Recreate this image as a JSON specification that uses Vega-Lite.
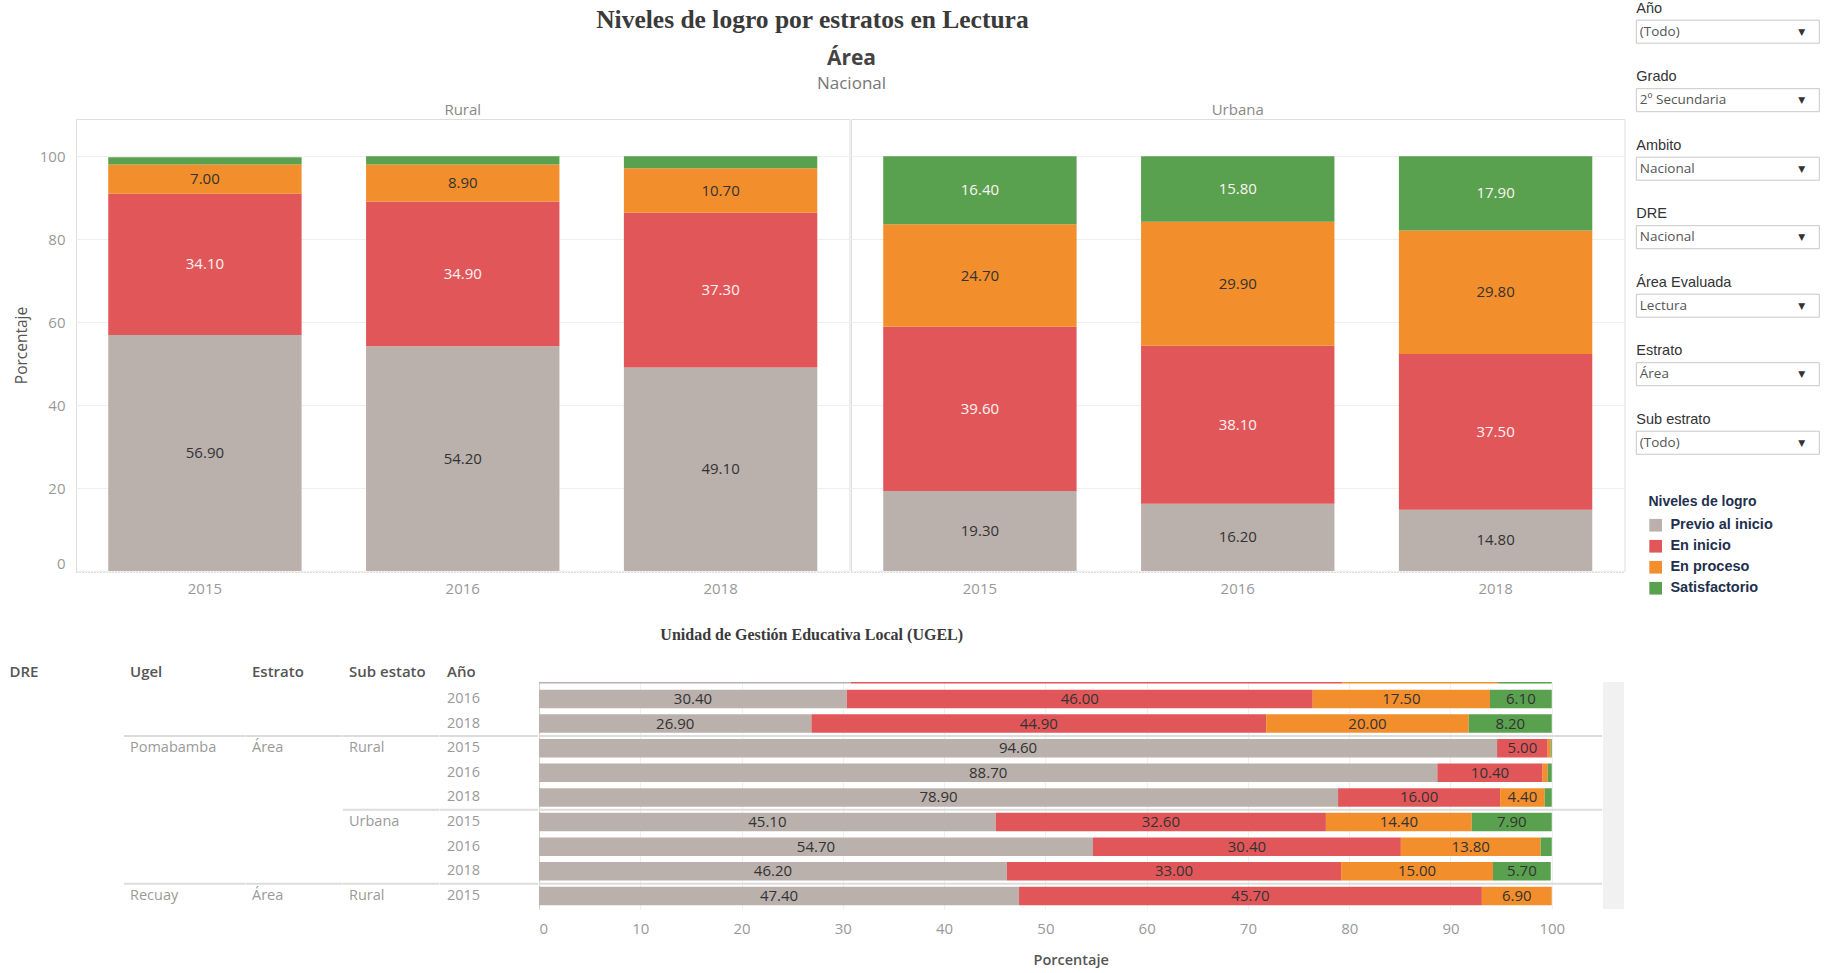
{
  "$schema": "https://vega.github.io/schema/vega-lite/v6.json",
  "background": "white",
  "padding": {"left": 9, "top": 0, "right": 4, "bottom": 6},
  "config": {
    "font": "Open Sans",
    "view": {"stroke": null},
    "axis": {"labelFont": "Open Sans", "titleFont": "Open Sans"},
    "header": {"labelFont": "Open Sans"},
    "title": {"font": "Open Sans"},
    "text": {"font": "Open Sans"}
  },
  "datasets": {
    "niveles": [
      {"nivel": "Previo al inicio", "rango": 1},
      {"nivel": "En inicio", "rango": 2},
      {"nivel": "En proceso", "rango": 3},
      {"nivel": "Satisfactorio", "rango": 4}
    ],
    "nacional": [
      {"area": "Rural", "anio": "2015", "nivel": "Previo al inicio", "pct": 56.9},
      {"area": "Rural", "anio": "2015", "nivel": "En inicio", "pct": 34.1},
      {"area": "Rural", "anio": "2015", "nivel": "En proceso", "pct": 7.0},
      {"area": "Rural", "anio": "2015", "nivel": "Satisfactorio", "pct": 1.8},
      {"area": "Rural", "anio": "2016", "nivel": "Previo al inicio", "pct": 54.2},
      {"area": "Rural", "anio": "2016", "nivel": "En inicio", "pct": 34.9},
      {"area": "Rural", "anio": "2016", "nivel": "En proceso", "pct": 8.9},
      {"area": "Rural", "anio": "2016", "nivel": "Satisfactorio", "pct": 2.0},
      {"area": "Rural", "anio": "2018", "nivel": "Previo al inicio", "pct": 49.1},
      {"area": "Rural", "anio": "2018", "nivel": "En inicio", "pct": 37.3},
      {"area": "Rural", "anio": "2018", "nivel": "En proceso", "pct": 10.7},
      {"area": "Rural", "anio": "2018", "nivel": "Satisfactorio", "pct": 2.9},
      {"area": "Urbana", "anio": "2015", "nivel": "Previo al inicio", "pct": 19.3},
      {"area": "Urbana", "anio": "2015", "nivel": "En inicio", "pct": 39.6},
      {"area": "Urbana", "anio": "2015", "nivel": "En proceso", "pct": 24.7},
      {"area": "Urbana", "anio": "2015", "nivel": "Satisfactorio", "pct": 16.4},
      {"area": "Urbana", "anio": "2016", "nivel": "Previo al inicio", "pct": 16.2},
      {"area": "Urbana", "anio": "2016", "nivel": "En inicio", "pct": 38.1},
      {"area": "Urbana", "anio": "2016", "nivel": "En proceso", "pct": 29.9},
      {"area": "Urbana", "anio": "2016", "nivel": "Satisfactorio", "pct": 15.8},
      {"area": "Urbana", "anio": "2018", "nivel": "Previo al inicio", "pct": 14.8},
      {"area": "Urbana", "anio": "2018", "nivel": "En inicio", "pct": 37.5},
      {"area": "Urbana", "anio": "2018", "nivel": "En proceso", "pct": 29.8},
      {"area": "Urbana", "anio": "2018", "nivel": "Satisfactorio", "pct": 17.9}
    ],
    "filas": [
      {"fila": 0, "dre": "", "ugel": "", "estrato": "", "sub": "", "anio": "2015"},
      {"fila": 1, "dre": "", "ugel": "", "estrato": "", "sub": "", "anio": "2016"},
      {"fila": 2, "dre": "", "ugel": "", "estrato": "", "sub": "", "anio": "2018"},
      {"fila": 3, "dre": "", "ugel": "Pomabamba", "estrato": "Área", "sub": "Rural", "anio": "2015"},
      {"fila": 4, "dre": "", "ugel": "", "estrato": "", "sub": "", "anio": "2016"},
      {"fila": 5, "dre": "", "ugel": "", "estrato": "", "sub": "", "anio": "2018"},
      {"fila": 6, "dre": "", "ugel": "", "estrato": "", "sub": "Urbana", "anio": "2015"},
      {"fila": 7, "dre": "", "ugel": "", "estrato": "", "sub": "", "anio": "2016"},
      {"fila": 8, "dre": "", "ugel": "", "estrato": "", "sub": "", "anio": "2018"},
      {"fila": 9, "dre": "", "ugel": "Recuay", "estrato": "Área", "sub": "Rural", "anio": "2015"}
    ],
    "ugel": [
      {"fila": 0, "nivel": "Previo al inicio", "pct": 30.8},
      {"fila": 0, "nivel": "En inicio", "pct": 48.5},
      {"fila": 0, "nivel": "En proceso", "pct": 15.4},
      {"fila": 0, "nivel": "Satisfactorio", "pct": 5.3},
      {"fila": 1, "nivel": "Previo al inicio", "pct": 30.4},
      {"fila": 1, "nivel": "En inicio", "pct": 46.0},
      {"fila": 1, "nivel": "En proceso", "pct": 17.5},
      {"fila": 1, "nivel": "Satisfactorio", "pct": 6.1},
      {"fila": 2, "nivel": "Previo al inicio", "pct": 26.9},
      {"fila": 2, "nivel": "En inicio", "pct": 44.9},
      {"fila": 2, "nivel": "En proceso", "pct": 20.0},
      {"fila": 2, "nivel": "Satisfactorio", "pct": 8.2},
      {"fila": 3, "nivel": "Previo al inicio", "pct": 94.6},
      {"fila": 3, "nivel": "En inicio", "pct": 5.0},
      {"fila": 3, "nivel": "En proceso", "pct": 0.3},
      {"fila": 3, "nivel": "Satisfactorio", "pct": 0.1},
      {"fila": 4, "nivel": "Previo al inicio", "pct": 88.7},
      {"fila": 4, "nivel": "En inicio", "pct": 10.4},
      {"fila": 4, "nivel": "En proceso", "pct": 0.5},
      {"fila": 4, "nivel": "Satisfactorio", "pct": 0.4},
      {"fila": 5, "nivel": "Previo al inicio", "pct": 78.9},
      {"fila": 5, "nivel": "En inicio", "pct": 16.0},
      {"fila": 5, "nivel": "En proceso", "pct": 4.4},
      {"fila": 5, "nivel": "Satisfactorio", "pct": 0.7},
      {"fila": 6, "nivel": "Previo al inicio", "pct": 45.1},
      {"fila": 6, "nivel": "En inicio", "pct": 32.6},
      {"fila": 6, "nivel": "En proceso", "pct": 14.4},
      {"fila": 6, "nivel": "Satisfactorio", "pct": 7.9},
      {"fila": 7, "nivel": "Previo al inicio", "pct": 54.7},
      {"fila": 7, "nivel": "En inicio", "pct": 30.4},
      {"fila": 7, "nivel": "En proceso", "pct": 13.8},
      {"fila": 7, "nivel": "Satisfactorio", "pct": 1.1},
      {"fila": 8, "nivel": "Previo al inicio", "pct": 46.2},
      {"fila": 8, "nivel": "En inicio", "pct": 33.0},
      {"fila": 8, "nivel": "En proceso", "pct": 15.0},
      {"fila": 8, "nivel": "Satisfactorio", "pct": 5.7},
      {"fila": 9, "nivel": "Previo al inicio", "pct": 47.4},
      {"fila": 9, "nivel": "En inicio", "pct": 45.7},
      {"fila": 9, "nivel": "En proceso", "pct": 6.9}
    ],
    "filtros": [
      {"filtro": "Año", "valor": "(Todo)"},
      {"filtro": "Grado", "valor": "2º Secundaria"},
      {"filtro": "Ambito", "valor": "Nacional"},
      {"filtro": "DRE", "valor": "Nacional"},
      {"filtro": "Área Evaluada", "valor": "Lectura"},
      {"filtro": "Estrato", "valor": "Área"},
      {"filtro": "Sub estrato", "valor": "(Todo)"}
    ]
  },
  "spacing": 10.3,
  "hconcat": [
    {
      "spacing": 14,
      "vconcat": [
        {
          "width": 1472.8,
          "height": 15,
          "data": {"values": [{"titulo": "Niveles de logro por estratos en Lectura"}]},
          "mark": {"type": "text", "font": "Liberation Serif", "fontSize": 25.5, "fontWeight": "bold", "color": "#3a3a3a", "baseline": "middle", "dy": 11.5},
          "encoding": {"text": {"field": "titulo"}}
        },
        {
          "spacing": 31,
          "vconcat": [
            {
              "data": {"name": "nacional"},
              "transform": [{"lookup": "nivel", "from": {"data": {"name": "niveles"}, "key": "nivel", "fields": ["rango"]}}],
              "title": {"text": "Área", "subtitle": "Nacional", "anchor": "middle", "dx": 32, "font": "Open Sans", "fontSize": 21, "fontWeight": "bold", "color": "#444444", "subtitleFont": "Open Sans", "subtitleFontSize": 17, "subtitleColor": "#777777", "subtitlePadding": 7, "offset": 11},
              "facet": {"column": {"field": "area", "type": "nominal", "title": null, "header": {"labelFontSize": 15, "labelColor": "#888888", "labelPadding": 0}}},
              "spacing": 0,
              "spec": {
                "width": 773.5,
                "height": 452,
                "view": {"stroke": "#dedede"},
                "encoding": {
                  "x": {"field": "anio", "type": "ordinal", "title": null, "scale": {"paddingInner": 0.25, "paddingOuter": 0.125},
                    "axis": {"labelAngle": 0, "labelFontSize": 15, "labelColor": "#999999", "labelPadding": 9, "ticks": false, "domainColor": "#b8b8b8", "domainDash": [1, 2], "domainWidth": 1}},
                  "order": {"field": "rango", "type": "quantitative"}
                },
                "layer": [
                  {
                    "mark": {"type": "bar"},
                    "encoding": {
                      "y": {"field": "pct", "type": "quantitative", "stack": "zero", "title": "Porcentaje", "scale": {"domain": [0, 109], "nice": false},
                        "axis": {"values": [0, 20, 40, 60, 80, 100], "labelFontSize": 15, "labelColor": "#999999", "labelPadding": 10, "ticks": false, "domain": false, "gridColor": "#efefef", "labelFlush": true, "titleFontSize": 15.5, "titleColor": "#555555", "titleFontWeight": "normal", "titlePadding": 10, "minExtent": 36, "maxExtent": 36}},
                      "color": {"field": "nivel", "type": "nominal",
                        "scale": {"domain": ["Previo al inicio", "En inicio", "En proceso", "Satisfactorio"], "range": ["#BAB0AC", "#E15759", "#F28E2B", "#59A14F"]},
                        "legend": {"title": "Niveles de logro", "orient": "none", "legendX": 1572.4, "legendY": 494, "padding": 0, "titleFont": "Liberation Sans", "titleFontSize": 14, "titleFontWeight": "bold", "titleColor": "#22304d", "titlePadding": 9, "labelFont": "Liberation Sans", "labelFontSize": 14.5, "labelFontWeight": "bold", "labelColor": "#22304d", "labelOffset": 7.5, "symbolType": "square", "symbolSize": 160, "symbolStrokeWidth": 0, "symbolOpacity": 1, "rowPadding": 6}}
                    }
                  },
                  {
                    "transform": [{"filter": "datum.pct >= 3"}],
                    "mark": {"type": "text", "fontSize": 15, "baseline": "middle"},
                    "encoding": {
                      "y": {"field": "pct", "type": "quantitative", "stack": "zero", "bandPosition": 0.5, "title": "Porcentaje", "scale": {"domain": [0, 109], "nice": false}},
                      "detail": {"field": "nivel", "type": "nominal"},
                      "text": {"field": "pct", "type": "quantitative", "format": ".2f"},
                      "color": {"condition": {"test": "datum.nivel == 'En inicio' || datum.nivel == 'Satisfactorio'", "value": "#fdf3f3"}, "value": "#333333"}
                    }
                  }
                ]
              }
            },
            {
              "title": {"text": "Unidad de Gestión Educativa Local (UGEL)", "font": "Liberation Serif", "fontSize": 16, "fontWeight": "bold", "color": "#3a3a3a", "anchor": "middle", "dx": -5, "offset": 22},
              "spacing": 0,
              "hconcat": [
                {
                  "width": 47.2, "height": 227,
                  "title": {"text": "DRE", "anchor": "start", "frame": "group", "dx": -66.6, "fontSize": 15, "fontWeight": 600, "color": "#555555", "offset": 2},
                  "data": {"name": "filas"},
                  "mark": {"type": "text", "align": "left", "baseline": "middle", "dx": -18, "fontSize": 14.5, "color": "#9a9a9a", "clip": true},
                  "encoding": {
                    "y": {"field": "fila", "type": "quantitative", "scale": {"domain": [0.31, 9.53], "reverse": true, "nice": false, "zero": false, "padding": 0}, "axis": null},
                    "text": {"field": "dre"}
                  }
                },
                {
                  "width": 121.7, "height": 227,
                  "title": {"text": "Ugel", "anchor": "start", "frame": "group", "dx": 6, "fontSize": 15, "fontWeight": 600, "color": "#555555", "offset": 2},
                  "data": {"name": "filas"},
                  "encoding": {"y": {"field": "fila", "type": "quantitative", "scale": {"domain": [0.31, 9.53], "reverse": true, "nice": false, "zero": false, "padding": 0}, "axis": null}},
                  "layer": [
                    {"mark": {"type": "text", "align": "left", "baseline": "middle", "dx": -54.85, "fontSize": 14.5, "color": "#9a9a9a", "clip": true}, "encoding": {"text": {"field": "ugel"}}},
                    {"transform": [{"filter": "datum.ugel != ''"}], "mark": {"type": "rule", "yOffset": -12.31, "color": "#dcdcdc", "strokeWidth": 2, "clip": true}, "encoding": {}}
                  ]
                },
                {
                  "width": 96.7, "height": 227,
                  "title": {"text": "Estrato", "anchor": "start", "frame": "group", "dx": 6, "fontSize": 15, "fontWeight": 600, "color": "#555555", "offset": 2},
                  "data": {"name": "filas"},
                  "encoding": {"y": {"field": "fila", "type": "quantitative", "scale": {"domain": [0.31, 9.53], "reverse": true, "nice": false, "zero": false, "padding": 0}, "axis": null}},
                  "layer": [
                    {"mark": {"type": "text", "align": "left", "baseline": "middle", "dx": -42.35, "fontSize": 14.5, "color": "#9a9a9a", "clip": true}, "encoding": {"text": {"field": "estrato"}}},
                    {"transform": [{"filter": "datum.ugel != ''"}], "mark": {"type": "rule", "yOffset": -12.31, "color": "#dcdcdc", "strokeWidth": 2, "clip": true}, "encoding": {}}
                  ]
                },
                {
                  "width": 96.7, "height": 227,
                  "title": {"text": "Sub estato", "anchor": "start", "frame": "group", "dx": 6, "fontSize": 15, "fontWeight": 600, "color": "#555555", "offset": 2},
                  "data": {"name": "filas"},
                  "encoding": {"y": {"field": "fila", "type": "quantitative", "scale": {"domain": [0.31, 9.53], "reverse": true, "nice": false, "zero": false, "padding": 0}, "axis": null}},
                  "layer": [
                    {"mark": {"type": "text", "align": "left", "baseline": "middle", "dx": -42.35, "fontSize": 14.5, "color": "#9a9a9a", "clip": true}, "encoding": {"text": {"field": "sub"}}},
                    {"transform": [{"filter": "datum.sub != ''"}], "mark": {"type": "rule", "yOffset": -12.31, "color": "#dcdcdc", "strokeWidth": 2, "clip": true}, "encoding": {}}
                  ]
                },
                {
                  "width": 98.3, "height": 227,
                  "title": {"text": "Año", "anchor": "start", "frame": "group", "dx": 7, "fontSize": 15, "fontWeight": 600, "color": "#555555", "offset": 2},
                  "data": {"name": "filas"},
                  "encoding": {"y": {"field": "fila", "type": "quantitative", "scale": {"domain": [0.31, 9.53], "reverse": true, "nice": false, "zero": false, "padding": 0}, "axis": null}},
                  "layer": [
                    {"mark": {"type": "text", "align": "left", "baseline": "middle", "dx": -42.15, "fontSize": 14.5, "color": "#9a9a9a", "clip": true}, "encoding": {"text": {"field": "anio"}}},
                    {"transform": [{"filter": "datum.sub != ''"}], "mark": {"type": "rule", "yOffset": -12.31, "color": "#dcdcdc", "strokeWidth": 2, "clip": true}, "encoding": {}}
                  ]
                },
                {
                  "width": 1063.4, "height": 227,
                  "layer": [
                    {
                      "data": {"name": "ugel"},
                      "transform": [{"lookup": "nivel", "from": {"data": {"name": "niveles"}, "key": "nivel", "fields": ["rango"]}}],
                      "mark": {"type": "bar", "orient": "horizontal", "height": 18.5, "clip": true},
                      "encoding": {
                        "y": {"field": "fila", "type": "quantitative", "scale": {"domain": [0.31, 9.53], "reverse": true, "nice": false, "zero": false, "padding": 0},
                          "axis": {"title": null, "labels": false, "ticks": false, "grid": false, "domainColor": "#d0d0d0"}},
                        "x": {"field": "pct", "type": "quantitative", "stack": "zero", "title": "Porcentaje", "scale": {"domain": [0, 105], "nice": false},
                          "axis": {"values": [0, 10, 20, 30, 40, 50, 60, 70, 80, 90, 100], "labelFontSize": 15, "labelColor": "#999999", "labelPadding": 12, "labelFlush": true, "ticks": false, "domain": false, "gridColor": "#f0f0f0", "titleFontSize": 14.5, "titleColor": "#555555", "titleFontWeight": 600, "titlePadding": 17}},
                        "color": {"field": "nivel", "type": "nominal",
                          "scale": {"domain": ["Previo al inicio", "En inicio", "En proceso", "Satisfactorio"], "range": ["#BAB0AC", "#E15759", "#F28E2B", "#59A14F"]},
                          "legend": {"title": "Niveles de logro", "orient": "none", "legendX": 1572.4, "legendY": 494, "padding": 0, "titleFont": "Liberation Sans", "titleFontSize": 14, "titleFontWeight": "bold", "titleColor": "#22304d", "titlePadding": 9, "labelFont": "Liberation Sans", "labelFontSize": 14.5, "labelFontWeight": "bold", "labelColor": "#22304d", "labelOffset": 7.5, "symbolType": "square", "symbolSize": 160, "symbolStrokeWidth": 0, "symbolOpacity": 1, "rowPadding": 6}},
                        "order": {"field": "rango", "type": "quantitative"}
                      }
                    },
                    {
                      "data": {"name": "ugel"},
                      "transform": [{"lookup": "nivel", "from": {"data": {"name": "niveles"}, "key": "nivel", "fields": ["rango"]}}, {"filter": "datum.pct >= 3"}],
                      "mark": {"type": "text", "fontSize": 15, "baseline": "middle", "color": "#333333", "clip": true},
                      "encoding": {
                        "y": {"field": "fila", "type": "quantitative"},
                        "x": {"field": "pct", "type": "quantitative", "stack": "zero", "bandPosition": 0.5, "title": "Porcentaje"},
                        "detail": {"field": "nivel", "type": "nominal"},
                        "order": {"field": "rango", "type": "quantitative"},
                        "text": {"field": "pct", "type": "quantitative", "format": ".2f"}
                      }
                    },
                    {
                      "data": {"name": "filas"},
                      "transform": [{"filter": "datum.sub != ''"}],
                      "mark": {"type": "rule", "yOffset": -12.31, "color": "#dcdcdc", "strokeWidth": 2, "clip": true},
                      "encoding": {"y": {"field": "fila", "type": "quantitative"}}
                    }
                  ]
                },
                {
                  "width": 21, "height": 227,
                  "view": {"fill": "#f1f1f1", "stroke": null},
                  "data": {"name": "filas"},
                  "mark": {"type": "text", "text": ""}
                }
              ]
            }
          ]
        }
      ]
    },
    {
      "width": 183,
      "height": 472.4,
      "data": {"name": "filtros"},
      "encoding": {"y": {"field": "filtro", "type": "nominal", "sort": null, "scale": {"paddingInner": 0.664, "paddingOuter": 0.28}, "axis": null}},
      "layer": [
        {"mark": {"type": "bar", "fill": "#ffffff", "stroke": "#c8c8c8", "strokeWidth": 1}},
        {"mark": {"type": "text", "align": "left", "baseline": "middle", "dx": -88, "fontSize": 13.5, "color": "#555555", "font": "Open Sans"}, "encoding": {"text": {"field": "valor"}}},
        {"mark": {"type": "text", "text": "▼", "baseline": "middle", "dx": 74, "fontSize": 9, "color": "#333333", "font": "DejaVu Sans"}},
        {"mark": {"type": "text", "align": "left", "baseline": "alphabetic", "dx": -91.5, "dy": -7.3, "fontSize": 14.5, "color": "#333333", "font": "Liberation Sans"},
          "encoding": {"text": {"field": "filtro"}, "y": {"field": "filtro", "type": "nominal", "sort": null, "bandPosition": 0}}}
      ]
    }
  ]
}
